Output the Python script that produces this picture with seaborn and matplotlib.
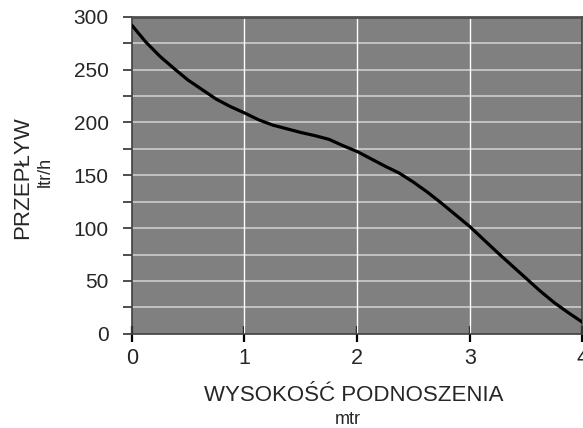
import numpy as np
import matplotlib
matplotlib.use("Agg")
import matplotlib.pyplot as plt
import seaborn as sns
import pandas as pd

# pump curve
wysokosc = [0, 0.125, 0.25, 0.375, 0.5, 0.625, 0.75, 0.875, 1.0, 1.125, 1.25, 1.375,
            1.5, 1.625, 1.75, 1.875, 2.0, 2.125, 2.25, 2.375, 2.5, 2.625, 2.75, 2.875,
            3.0, 3.125, 3.25, 3.375, 3.5, 3.625, 3.75, 3.875, 4.0]
przeplyw = [292, 276, 262.5, 251, 240, 231, 222, 215, 209, 202.5, 197.5, 194,
            190.5, 187.5, 184, 178, 172.5, 165.5, 158.5, 152, 143.5, 134, 123.5, 112.5,
            101.5, 89, 76.5, 64.5, 52.5, 40.5, 29.5, 20, 11]
x_ticks = [0, 1, 2, 3, 4]
y_ticks = [0, 50, 100, 150, 200, 250, 300]

df = pd.DataFrame({'h': wysokosc, 'q': przeplyw})

sns.set_theme(style="white")
plt.rcParams['font.family'] = ['Liberation Sans', 'DejaVu Sans']

fig = plt.figure(figsize=(5.83, 4.28), dpi=100)
ax = fig.add_axes([0.226, 0.22, 0.773, 0.741])
ax.set_facecolor('#808080')

# grid lines
for v in range(25, 300, 25):
    ax.axhline(v, color='#c8c8c8', lw=1.3, zorder=1)
for v in [1, 2, 3]:
    ax.axvline(v, color='white', lw=1.0, zorder=1)

sns.lineplot(data=df, x='h', y='q', color='black', lw=2.3, ax=ax, zorder=3,
             solid_joinstyle='round', solid_capstyle='round')

ax.set_xlim(0, 4)
ax.set_ylim(0, 300)
ax.set_xticks(x_ticks)
ax.set_yticks(y_ticks)
ax.set_yticks(range(25, 300, 50), minor=True)
ax.set_xlabel('')
ax.set_ylabel('')

ax.tick_params(axis='x', direction='inout', length=12, width=1.6, color='black',
               labelsize=15.5, pad=4, bottom=True)
ax.tick_params(axis='y', which='both', direction='out', length=6.5, width=1.2,
               color='#303030', labelsize=15, pad=10, left=True)

for side in ['left', 'bottom', 'right']:
    ax.spines[side].set_color('#404040')
    ax.spines[side].set_linewidth(1.2)
ax.spines['top'].set_color('#505050')
ax.spines['top'].set_linewidth(2.0)

fig.text(0.607, 0.075, 'WYSOKOŚĆ PODNOSZENIA', ha='center', va='center', fontsize=16)
fig.text(0.597, 0.019, 'mtr', ha='center', va='center', fontsize=13)
fig.text(0.038, 0.585, 'PRZEPŁYW', ha='center', va='center', rotation=90, fontsize=16)
fig.text(0.077, 0.598, 'ltr/h', ha='center', va='center', rotation=90, fontsize=13)

fig.savefig('out.png', dpi=100)
